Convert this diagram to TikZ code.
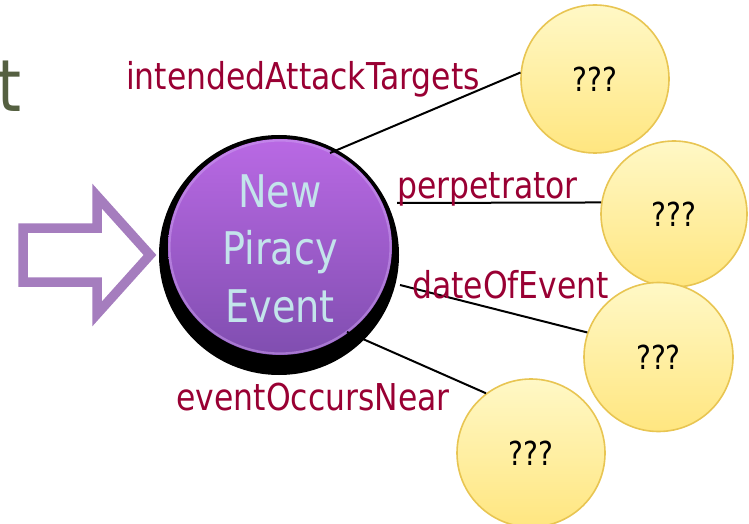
\documentclass[tikz,border=0pt]{standalone}
\usepackage{fontspec}
\setmainfont{DejaVu Sans}
\usetikzlibrary{calc}

\definecolor{titlegreen}{RGB}{85,96,65}
\definecolor{arrowlilac}{RGB}{165,125,190}
\definecolor{relred}{RGB}{153,0,51}
\definecolor{eventtext}{RGB}{195,228,235}
\definecolor{balltop}{RGB}{185,105,228}
\definecolor{ballbottom}{RGB}{128,78,176}
\definecolor{ballrim}{RGB}{205,160,240}
\definecolor{slottop}{RGB}{255,248,198}
\definecolor{slotbottom}{RGB}{255,230,128}
\definecolor{slotedge}{RGB}{232,197,82}

% narrow the sans face a little
\newcommand\narrowtext[1]{\scalebox{0.85}[1]{#1}}

\tikzset{
  relation/.style={inner sep=0pt, text=relred,
    font=\fontsize{37}{44}\selectfont},
  slot/.style={circle, inner sep=0pt, minimum size=#1,
    top color=slottop, bottom color=slotbottom,
    draw=slotedge, line width=1.6pt,
    font=\fontsize{33}{40}\selectfont},
  eventline/.style={inner sep=0pt, text=eventtext,
    font=\fontsize{45}{54}\selectfont},
  link/.style={draw=black, line width=2pt},
}

\begin{document}
\begin{tikzpicture}[x=1pt, y=1pt]
\useasboundingbox (0,0) rectangle (749,523);
\clip (0,0) rectangle (749,523);

% tail of the slide title
\node[inner sep=0pt, anchor=base east, text=titlegreen,
      font=\fontsize{72}{80}\selectfont] (titletail) at (22,411) {\narrowtext{t}};

% hollow arrow pointing at the event
\draw[arrowlilac, line width=9.5pt, miter limit=10]
  (23,295) -- (97,295) -- (97,327) -- (150,268) -- (97,209) -- (97,241) -- (23,241) -- cycle;

% the event ball: dark shadow, shaded face, light rim
\node[circle, fill=black, minimum size=240pt, inner sep=0pt] (ev) at (279,268) {};
\fill[top color=balltop, bottom color=ballbottom] (280,276) ellipse (112 and 108);
\draw[ballrim, line width=2.2pt, opacity=0.5] (280,276) ellipse (110.5 and 106.5);

\node[eventline, anchor=base] (evnew)    at (280,316) {\narrowtext{New}};
\node[eventline, anchor=base] (evpiracy) at (280,259) {\narrowtext{Piracy}};
\node[eventline, anchor=base] (evevent)  at (280,201) {\narrowtext{Event}};

% unknown slot values
\node[slot=148pt] (t1) at (595,444) {\narrowtext{???}};
\node[slot=146pt] (t2) at (674,309) {\narrowtext{???}};
\node[slot=149pt] (t3) at (658.5,166) {\narrowtext{???}};
\node[slot=148pt] (t4) at (531,70) {\narrowtext{???}};

% where the relations leave the ball
\coordinate (p1) at (330,370);
\coordinate (p2) at (397,320);
\coordinate (p3) at (400,238);
\coordinate (p4) at (347,191);

\draw[link] (p1) -- (t1.175);
\draw[link] (p2) -- (t2.171);
\draw[link] (p3) -- (t3.161);
\draw[link] (p4) -- (t4.127.5);

% relation names
\node[relation, anchor=base west] (r1) at (126,433) {\narrowtext{intendedAttackTargets}};
\node[relation, anchor=base west] (r2) at (397,325) {\narrowtext{perpetrator}};
\node[relation, anchor=base west] (r3) at (412,225) {\narrowtext{dateOfEvent}};
\node[relation, anchor=base east] (r4) at (450,113) {\narrowtext{eventOccursNear}};
\end{tikzpicture}
\end{document}
